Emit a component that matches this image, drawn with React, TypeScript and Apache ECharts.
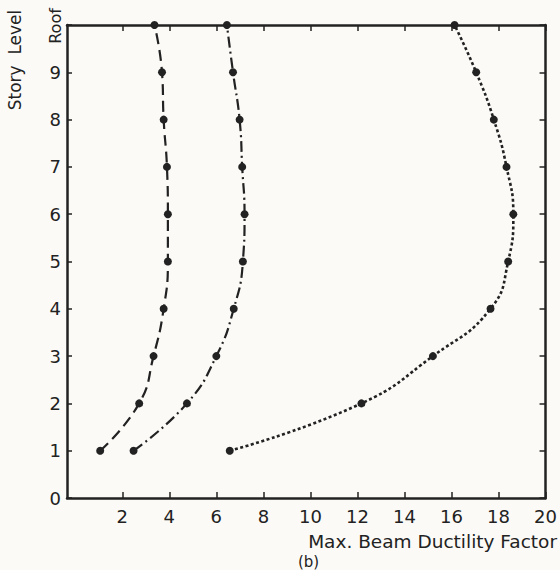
import React, { useEffect, useRef } from "react";
import * as echarts from "echarts";

const levels = [1, 2, 3, 4, 5, 6, 7, 8, 9, 10];
const levelLabels = ["0", "1", "2", "3", "4", "5", "6", "7", "8", "9", "Roof"];
const seriesA = [1.06, 2.72, 3.33, 3.76, 3.94, 3.94, 3.9, 3.76, 3.69, 3.37];
const seriesB = [2.48, 4.75, 6.0, 6.74, 7.13, 7.2, 7.1, 6.99, 6.71, 6.45];
const seriesC = [6.57, 12.17, 15.21, 17.66, 18.41, 18.63, 18.34, 17.8, 17.05, 16.13];
const xTicks = [2, 4, 6, 8, 10, 12, 14, 16, 18, 20];
const xTitle = "Max. Beam Ductility Factor";
const yTitle = "Story  Level";
const panelTag = "(b)";

const INK = "#222";
const FONT = "DejaVu Sans";

export default function App() {
  const ref = useRef<HTMLDivElement>(null);
  useEffect(() => {
    if (!ref.current) return;
    const chart = echarts.init(ref.current, undefined, { renderer: "svg" });
    const toPairs = (xs: number[]) => xs.map((x, i) => [x, levels[i]]);
    const lineSeries = (data: number[], dash: number[], width: number) => ({
      type: "line",
      data: toPairs(data),
      smooth: 0.5,
      clip: false,
      symbol: "circle",
      symbolSize: 8,
      itemStyle: { color: INK },
      lineStyle: { color: INK, width, type: dash },
      z: 3,
    });
    const axisLine = { show: true, onZero: false, lineStyle: { color: INK, width: 2.5 } };
    chart.setOption({
      animation: false,
      backgroundColor: "#fbfaf7",
      grid: { left: 67, right: 14, top: 25, bottom: 72 },
      xAxis: [
        {
          type: "value",
          min: -0.35,
          max: 20,
          axisLine,
          axisTick: { show: true, inside: true, length: 6, customValues: xTicks, lineStyle: { color: INK, width: 1.5 } },
          axisLabel: { customValues: xTicks, color: INK, fontSize: 18, fontFamily: FONT, margin: 9 },
          splitLine: { show: false },
        },
        {
          type: "value",
          position: "top",
          min: -0.35,
          max: 20,
          axisLine,
          axisTick: { show: true, inside: true, length: 6, customValues: xTicks, lineStyle: { color: INK, width: 1.5 } },
          axisLabel: { show: false },
          splitLine: { show: false },
        },
      ],
      yAxis: [
        {
          type: "value",
          min: 0,
          max: 10,
          interval: 1,
          axisLine,
          axisTick: { show: true, inside: true, length: 5, lineStyle: { color: INK, width: 1.5 } },
          axisLabel: {
            color: INK,
            fontSize: 18,
            fontFamily: FONT,
            margin: 6,
            formatter: (v: number) => (v >= 10 ? "" : levelLabels[v]),
          },
          splitLine: { show: false },
        },
        {
          type: "value",
          position: "right",
          min: 0,
          max: 10,
          interval: 1,
          axisLine,
          axisTick: { show: true, inside: true, length: 6, lineStyle: { color: INK, width: 1.5 } },
          axisLabel: { show: false },
          splitLine: { show: false },
        },
      ],
      graphic: [
        {
          type: "text",
          x: 15,
          y: 60,
          rotation: Math.PI / 2,
          style: { text: yTitle, fill: INK, font: `17px '${FONT}'`, align: "center", verticalAlign: "middle" },
        },
        {
          type: "text",
          x: 55,
          y: 26,
          rotation: Math.PI / 2,
          style: { text: levelLabels[10], fill: INK, font: `16px '${FONT}'`, align: "center", verticalAlign: "middle" },
        },
        {
          type: "text",
          x: 557,
          y: 541,
          style: { text: xTitle, fill: INK, font: `18.5px '${FONT}'`, align: "right", verticalAlign: "middle" },
        },
        {
          type: "text",
          x: 298,
          y: 562,
          style: { text: panelTag, fill: INK, font: `15px '${FONT}'`, align: "left", verticalAlign: "middle" },
        },
      ],
      series: [
        lineSeries(seriesA, [11, 6], 2.2),
        lineSeries(seriesB, [11, 4, 2, 4], 2.2),
        lineSeries(seriesC, [3, 2.5], 2.6),
      ],
    });
    return () => chart.dispose();
  }, []);
  return <div ref={ref} style={{ position: "fixed", left: 0, top: 0, width: 560, height: 570 }} />;
}
